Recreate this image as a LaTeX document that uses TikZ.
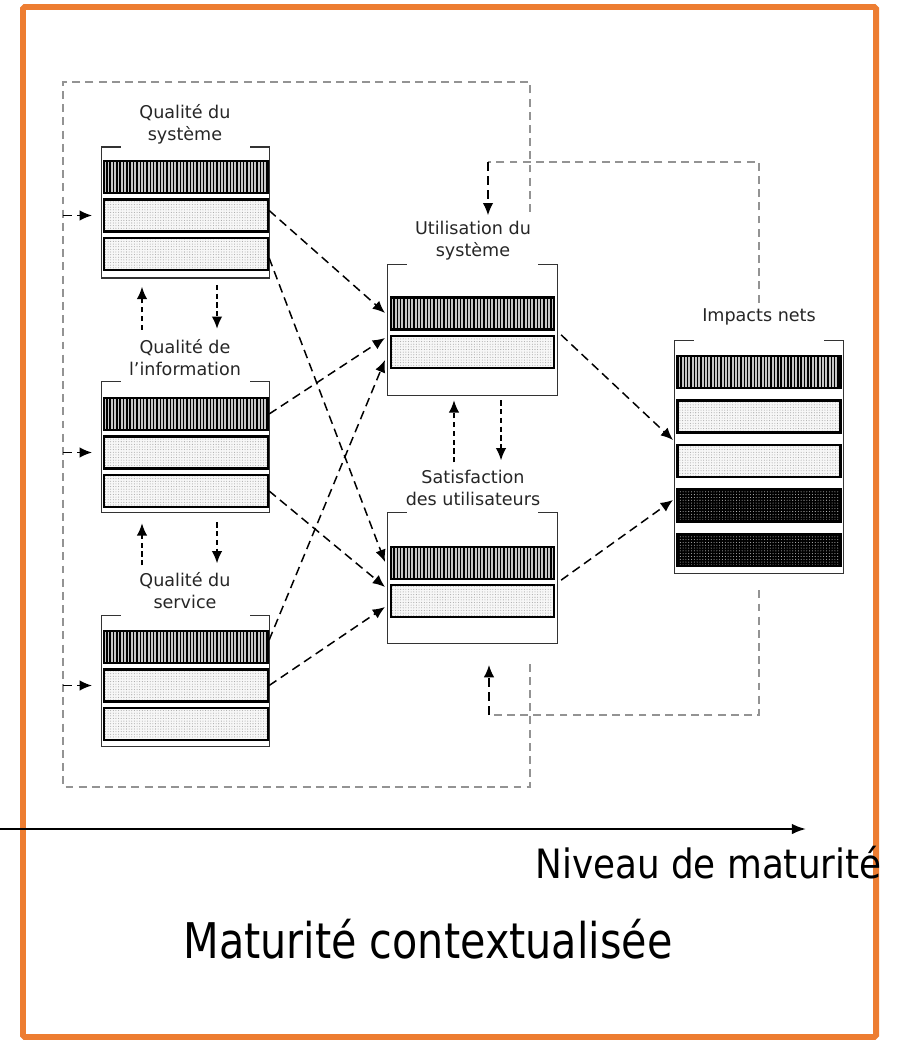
\documentclass[tikz,border=0pt]{standalone}
\usepackage{fontspec}
\usepackage{graphicx}
\setmainfont{DejaVu Sans}
\usetikzlibrary{arrows.meta,patterns.meta}

\definecolor{cadreorange}{RGB}{237,125,49}

\newcommand\cadreouvert[1]{%
  \draw[line width=0.8pt, black!80] ([xshift=0.38cm]#1.north west) -- (#1.north west)
    -- (#1.south west) -- (#1.south east) -- (#1.north east) -- ([xshift=-0.38cm]#1.north east);}

\tikzset{
  rangee/.style={draw=black, line width=1.3pt, minimum width=3.28cm, minimum height=0.64cm, inner sep=0pt},
  raye/.style={rangee, preaction={fill=gray!45}, pattern={Lines[angle=90,distance=1.9pt,line width=0.8pt]}},
  pointe/.style={rangee, preaction={fill=gray!6}, pattern={Dots[distance=1.5pt,radius=0.3pt]}, pattern color=gray!70},
  noir/.style={rangee, preaction={fill=black}, pattern={Dots[distance=1.6pt,radius=0.3pt]}, pattern color=gray!55},
  cadre/.style={minimum width=3.34cm, minimum height=2.6cm, inner sep=0pt},
  titre/.style={align=center, font=\fontsize{10}{12.5}\selectfont, text=black!85},
  fleche/.style={dash pattern=on 5pt off 3pt, line width=0.85pt, -{Latex[length=7pt,width=6pt]}},
  petit/.style={dash pattern=on 3pt off 2pt, line width=0.85pt, -{Latex[length=7pt,width=6pt]}},
  retour/.style={draw=gray!85, dash pattern=on 4.5pt off 3pt, line width=0.6pt},
}

\begin{document}
\begin{tikzpicture}[x=0.02cm, y=-0.02cm]
    \useasboundingbox (0,0) rectangle (901,1040);
    \draw[cadreorange, line width=3.4pt, rounded corners=1pt] (23,7) rectangle (876,1037);

    % grande boucle pointillee
    \coordinate (bg) at (63,82);
    \coordinate (bd) at (530,787);
    \draw[retour] (530,212) -- (530,82) -- (bg) -- (63,787) -- (bd) -- (530,660);

    % cadres
    \node[cadre] (fqs) at (185.5,212.5) {};
    \node[cadre] (fqi) at (185.5,447) {};
    \node[cadre] (fqv) at (185.5,681) {};
    \node[cadre, minimum width=3.38cm] (fut) at (472.5,330) {};
    \node[cadre, minimum width=3.38cm] (fsa) at (472.5,578) {};
    \node[cadre, minimum width=3.36cm, minimum height=4.64cm] (fim) at (759,457) {};
    \foreach \f in {fqs,fqi,fqv,fut,fsa,fim} {\cadreouvert{\f}}

    % rangees
    \foreach \b/\y in {qs/177, qi/414, qv/647} {
        \node[raye] (\b1) at (186,\y) {};
        \node[pointe] (\b2) at (186,\y+38.5) {};
        \node[pointe] (\b3) at (186,\y+77) {};
    }
    \node[raye, minimum width=3.26cm] (ut1) at (472.5,313.5) {};
    \node[pointe, minimum width=3.26cm] (ut2) at (472.5,352) {};
    \node[raye, minimum width=3.26cm] (sa1) at (472.5,563) {};
    \node[pointe, minimum width=3.26cm] (sa2) at (472.5,601) {};
    \node[raye, minimum width=3.26cm] (im1) at (759,372) {};
    \node[pointe, minimum width=3.26cm] (im2) at (759,416.5) {};
    \node[pointe, minimum width=3.26cm] (im3) at (759,461) {};
    \node[noir, minimum width=3.26cm] (im4) at (759,505.5) {};
    \node[noir, minimum width=3.26cm] (im5) at (759,550) {};

    % titres
    \node[titre] (lqs) at (185,124) {Qualité du\\système};
    \node[titre] (lqi) at (185,357.5) {Qualité de\\l’information};
    \node[titre] (lqv) at (185,591) {Qualité du\\service};
    \node[titre] (lut) at (473,241) {Utilisation du\\système};
    \node[titre] (lsa) at (473,488) {Satisfaction\\des utilisateurs};
    \node[titre] (lim) at (759,317) {Impacts nets};

    % entrees
    \foreach \r in {qs2,qi2,qv2}
        \draw[fleche] (bg |- \r.west) -- ([xshift=-0.22cm]\r.west);

    % fleches croisees
    \coordinate (ut-a) at (385,313);
    \coordinate (ut-b) at (385,338);
    \coordinate (ut-c) at (385,360);
    \coordinate (sa-a) at (385,562);
    \coordinate (sa-b) at (385,587);
    \coordinate (sa-c) at (385,607);
    \coordinate (im-a) at (673,440);
    \coordinate (im-b) at (673,500);
    \draw[fleche] ([yshift=0.1cm]qs2.east) -- (ut-a);
    \draw[fleche] ([yshift=-0.08cm]qs3.east) -- (sa-a);
    \draw[fleche] (qi1.east) -- (ut-b);
    \draw[fleche] (qi3.east) -- (sa-b);
    \draw[fleche] ([yshift=0.14cm]qv1.east) -- (ut-c);
    \draw[fleche] (qv2.east) -- (sa-c);
    \draw[fleche] ([xshift=0.12cm]ut2.north east) -- (im-a);
    \draw[fleche] ([xshift=0.12cm]sa1.south east) -- (im-b);

    % fleches verticales
    \draw[petit] ([shift={(-43.5,52)}]fqs.south) -- ([shift={(-43.5,9)}]fqs.south);
    \draw[petit] ([shift={(31.5,7)}]fqs.south) -- ([shift={(31.5,51)}]fqs.south);
    \draw[petit] ([shift={(-43.5,53)}]fqi.south) -- ([shift={(-43.5,11)}]fqi.south);
    \draw[petit] ([shift={(31.5,10)}]fqi.south) -- ([shift={(31.5,51)}]fqi.south);
    \draw[petit] ([shift={(-18.5,67)}]fut.south) -- ([shift={(-18.5,5)}]fut.south);
    \draw[petit] ([shift={(28.5,5)}]fut.south) -- ([shift={(28.5,65)}]fut.south);

    % retours
    \coordinate (haut) at (488,162);
    \draw[retour] (lim.north) |- (haut);
    \draw[fleche] (haut) -- (haut |- lut.north);
    \coordinate (bas) at (489,715);
    \coordinate (bas-fin) at (489,665);
    \draw[retour] ([yshift=-0.34cm]fim.south) |- (bas);
    \draw[fleche] (bas) -- (bas-fin);

    % axe
    \coordinate (axe-d) at (0,829);
    \coordinate (axe-f) at (806,829);
    \draw[line width=1.2pt, -{Latex[length=8pt,width=6pt]}] (axe-d) -- (axe-f);
    \node[anchor=base west, inner sep=0pt, font=\fontsize{23}{27}\selectfont] (niveau) at (535,878)
        {\scalebox{0.885}[1]{Niveau de maturité}};
    \node[anchor=base west, inner sep=0pt, font=\fontsize{28}{33}\selectfont] (maturite) at (183,958)
        {\scalebox{0.84}[1]{Maturité contextualisée}};
\end{tikzpicture}
\end{document}
